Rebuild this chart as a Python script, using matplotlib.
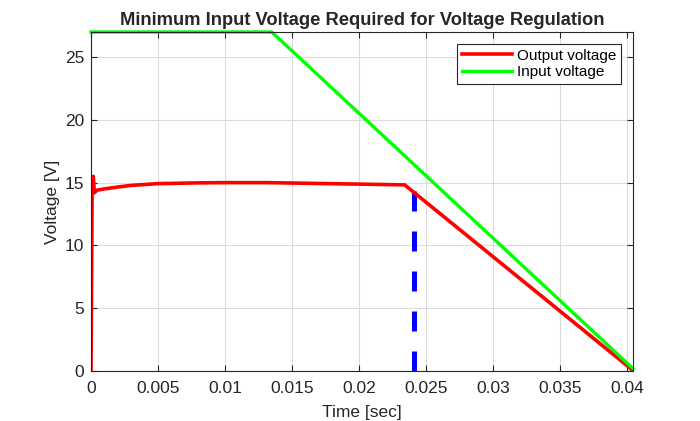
import matplotlib.pyplot as plt

plt.rcParams['font.family'] = ['Liberation Sans', 'DejaVu Sans']

# Output voltage (red)
t_out = [0, 0.00008, 0.00017, 0.00025, 0.00045, 0.001, 0.002, 0.003, 0.005, 0.008,
         0.01, 0.013, 0.016, 0.02, 0.0234, 0.0237, 0.0404]
v_out = [0, 14.0, 15.5, 14.2, 14.4, 14.5, 14.65, 14.78, 14.92, 14.98,
         15.0, 15.0, 14.95, 14.88, 14.82, 14.55, 0.05]

# Input voltage (green)
t_in = [0, 0.01348, 0.0404]
v_in = [27, 27, 0.2]

# Marker of regulation loss
t_mark = 0.0241
v_mark = [0, 14.3]

fig = plt.figure(figsize=(7, 4.21), dpi=100)
ax = fig.add_axes([0.13, 0.119, 0.774, 0.805])

ax.plot(t_out, v_out, color='#ff0000', linewidth=2.6, label='Output voltage')
ax.plot(t_in, v_in, color='#00ff00', linewidth=2.4, label='Input voltage', clip_on=False)
ax.plot([t_mark, t_mark], v_mark, color='#0000ff', linewidth=3.6,
        dashes=(4, 4), zorder=1.5)

ax.set_xlim(0, 0.0404)
ax.set_ylim(0, 27)
ax.set_xticks([0, 0.005, 0.01, 0.015, 0.02, 0.025, 0.03, 0.035, 0.04])
ax.set_xticklabels(['0', '0.005', '0.01', '0.015', '0.02', '0.025', '0.03', '0.035', '0.04'])
ax.set_yticks([0, 5, 10, 15, 20, 25])

ax.grid(True, color='#dcdcdc', linewidth=0.8)
ax.set_axisbelow(True)
ax.tick_params(direction='in', length=4, labelsize=12.5, colors='#262626',
               top=True, right=True)
ax.tick_params(axis='x', pad=7)
ax.tick_params(axis='y', pad=5)
for s in ax.spines.values():
    s.set_color('#262626')
    s.set_linewidth(0.8)

ax.set_xlabel('Time [sec]', fontsize=12.5, color='#262626', labelpad=7)
ax.set_ylabel('Voltage [V]', fontsize=12.5, color='#262626', labelpad=3)
ax.set_title('Minimum Input Voltage Required for Voltage Regulation',
             fontsize=13.2, fontweight='bold', color='#262626', pad=5)

leg = ax.legend(loc='upper right', fontsize=11, fancybox=False, framealpha=1,
                edgecolor='#262626', handlelength=3.3, borderaxespad=0.8,
                handletextpad=0.3, borderpad=0.3, labelspacing=0.15)
leg.get_frame().set_linewidth(0.8)

fig.savefig('out.png', dpi=100)
